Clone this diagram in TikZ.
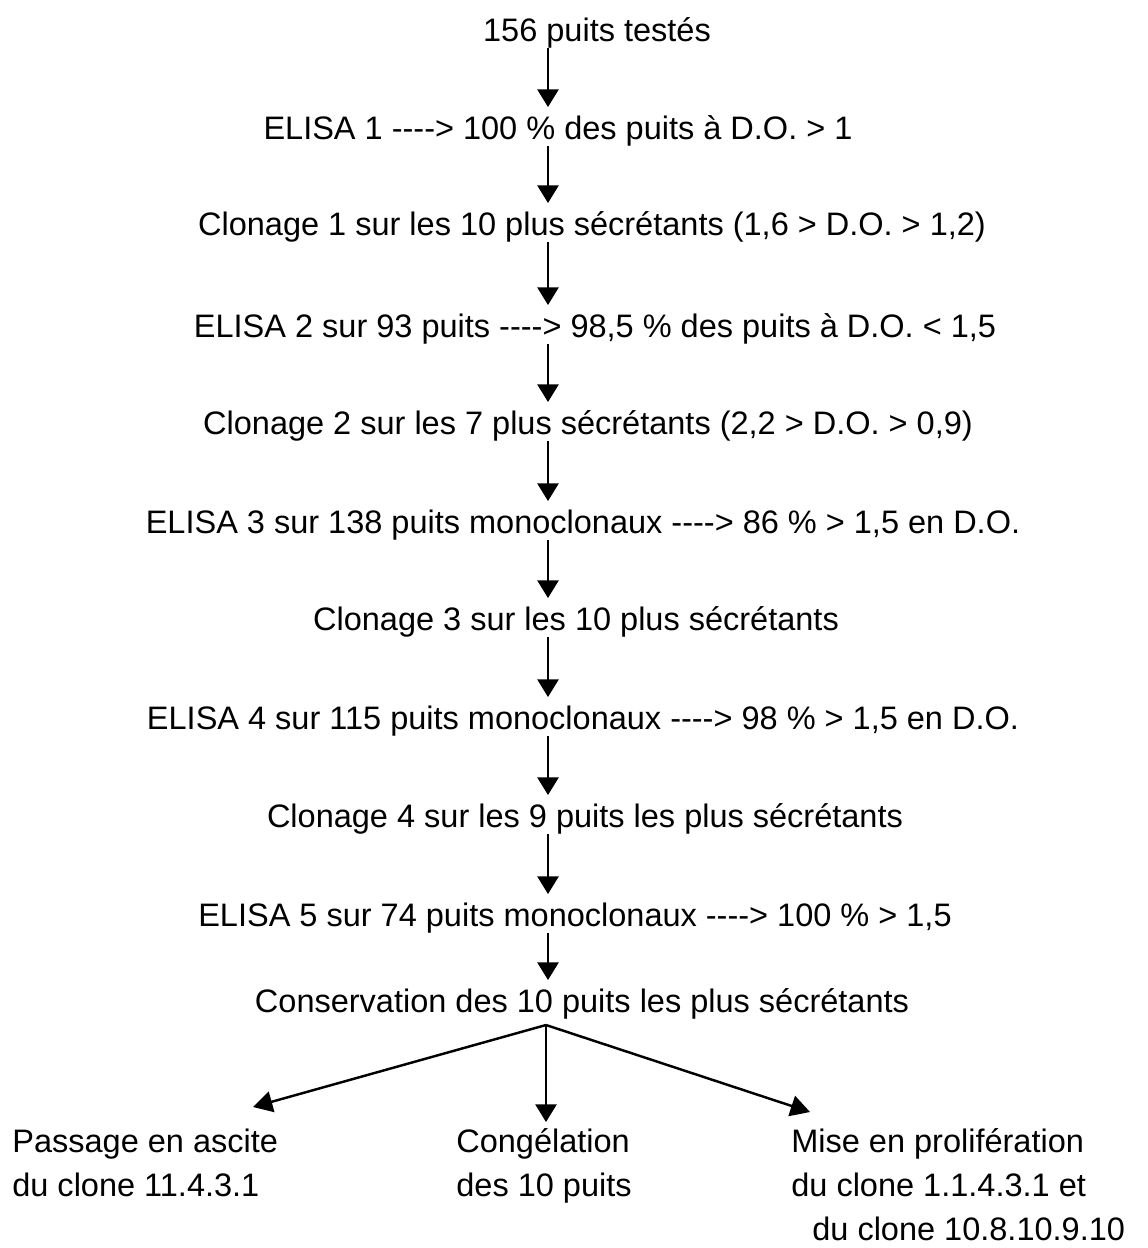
\documentclass[tikz,border=0pt]{standalone}
\usepackage{fontspec}
\setmainfont{Liberation Sans}
\usetikzlibrary{arrows.meta}
\newcommand\flecheT{-{}-{}-{}->}
\begin{document}
\begin{tikzpicture}[x=0.02cm,y=-0.02cm,
  txt/.style={inner sep=0pt,anchor=base,font=\fontsize{18.5pt}{22pt}\selectfont,text height=13pt,text depth=4pt},
  ltxt/.style={txt,anchor=base west},
  arr/.style={line width=1.1pt,-{Triangle[width=12pt,length=10pt]},shorten >=5pt},
  barr/.style={line width=1.4pt,-{Triangle[width=12pt,length=11pt]}}]
\useasboundingbox (0,0) rectangle (1148,1248);
\coordinate (ax) at (548,0);
\node[txt] (n1) at (597,41) {156 puits testés};
\node[txt] (n2) at (558,139) {ELISA 1 \flecheT{} 100 \% des puits à D.O. > 1};
\node[txt] (n3) at (592,235) {Clonage 1 sur les 10 plus sécrétants (1,6 > D.O. > 1,2)};
\node[txt] (n4) at (595,337) {ELISA 2 sur 93 puits \flecheT{} 98,5 \% des puits à D.O. < 1,5};
\node[txt] (n5) at (588,434) {Clonage 2 sur les 7 plus sécrétants (2,2 > D.O. > 0,9)};
\node[txt] (n6) at (583,533) {ELISA 3 sur 138 puits monoclonaux \flecheT{} 86 \% > 1,5 en D.O.};
\node[txt] (n7) at (576,630) {Clonage 3 sur les 10 plus sécrétants};
\node[txt] (n8) at (583,729) {ELISA 4 sur 115 puits monoclonaux \flecheT{} 98 \% > 1,5 en D.O.};
\node[txt] (n9) at (585,827) {Clonage 4 sur les 9 puits les plus sécrétants};
\node[txt] (n10) at (575,926) {ELISA 5 sur 74 puits monoclonaux \flecheT{} 100 \% > 1,5};
\node[txt] (n11) at (582,1012) {Conservation des 10 puits les plus sécrétants};
\foreach \a/\b in {n1/n2,n2/n3,n3/n4,n4/n5,n5/n6,n6/n7,n7/n8,n8/n9,n9/n10,n10/n11}
  \draw[arr] (\a.south -| ax) -- (\b.north -| ax);
\node[ltxt] (p1) at (12,1152) {Passage en ascite};
\node[ltxt] (p2) at (12,1196) {du clone 11.4.3.1};
\node[ltxt] (c1) at (456,1152) {Congélation};
\node[ltxt] (c2) at (456,1196) {des 10 puits};
\node[ltxt] (m1) at (791,1152) {Mise en prolifération};
\node[ltxt] (m2) at (791,1196) {du clone 1.1.4.3.1 et};
\node[ltxt] (m3) at (812,1240) {du clone 10.8.10.9.10};
\coordinate (apex) at (546,1025);
\coordinate (tl) at (253,1107);
\coordinate (tm) at (546,1122);
\coordinate (tr) at (810,1112);
\draw[barr] (apex) -- (tl);
\draw[arr,shorten >=0pt] (apex) -- (tm);
\draw[barr] (apex) -- (tr);
\end{tikzpicture}
\end{document}
